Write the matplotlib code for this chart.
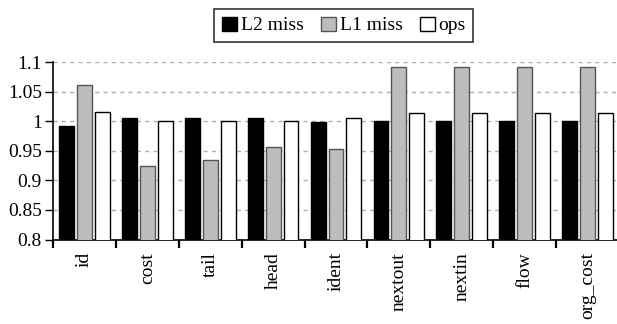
import numpy as np
import matplotlib
matplotlib.use("Agg")
import matplotlib.pyplot as plt
from matplotlib.patches import Patch

# ── Data ──────────────────────────────────────────────────────────────────────
fields = ['id', 'cost', 'tail', 'head', 'ident', 'nextout', 'nextin', 'flow', 'org_cost']
l2_miss = [0.992, 1.006, 1.006, 1.006, 0.998, 1.001, 1.001, 1.001, 1.001]
l1_miss = [1.061, 0.924, 0.934, 0.957, 0.953, 1.091, 1.091, 1.091, 1.091]
ops     = [1.015, 1.001, 1.001, 1.001, 1.005, 1.013, 1.013, 1.013, 1.013]
yticks  = [0.8, 0.85, 0.9, 0.95, 1.0, 1.05, 1.1]
ytick_labels = ['0.8', '0.85', '0.9', '0.95', '1', '1.05', '1.1']

# ── Plot ──────────────────────────────────────────────────────────────────────
plt.rcParams.update({'font.family': 'Liberation Serif', 'font.size': 14})
fig = plt.figure(figsize=(6.17, 3.24), dpi=100)
ax = fig.add_axes([0.0859, 0.2608, 0.9173, 0.5478])

x = np.arange(len(fields))
w = 0.237
step = 0.284
ax.bar(x - step, l2_miss, w, color='black', edgecolor='black', lw=1, zorder=3)
ax.bar(x, l1_miss, w, color='#bdbdbd', edgecolor='#555555', lw=1, zorder=3)
ax.bar(x + step, ops, w, color='white', edgecolor='black', lw=1, zorder=3)

ax.set_ylim(0.8, 1.1)
ax.set_xlim(-0.5, len(fields) - 0.5)
ax.set_yticks(yticks)
ax.set_yticklabels(ytick_labels)
ax.yaxis.grid(True, ls=(0, (3, 3)), color='#b0b0b0', lw=1, zorder=0)

# group boundaries as major ticks, names as minor ticks at centres
ax.set_xticks(np.arange(len(fields) + 1) - 0.5)
ax.set_xticklabels([])
ax.set_xticks(x, minor=True)
ax.set_xticklabels(fields, minor=True, rotation=90, va='top', ha='center')
ax.tick_params(axis='x', which='minor', length=0, pad=9)
ax.tick_params(axis='x', which='major', length=6, width=1.6, direction='out')
ax.tick_params(axis='y', length=6, width=1, direction='out', pad=2)

for s in ['top', 'right']:
    ax.spines[s].set_visible(False)
ax.spines['left'].set_linewidth(1.2)
ax.spines['bottom'].set_linewidth(1.2)

handles = [Patch(facecolor='black', edgecolor='black', label='L2 miss'),
           Patch(facecolor='#bdbdbd', edgecolor='#555555', label='L1 miss'),
           Patch(facecolor='white', edgecolor='black', label='ops')]
leg = fig.legend(handles=handles, loc='center', bbox_to_anchor=(0.5575, 0.9213, 0, 0),
                 ncol=3, frameon=True, fancybox=False, edgecolor='black',
                 handlelength=0.75, handleheight=0.75, handletextpad=0.2,
                 columnspacing=0.9, borderpad=0.4, fontsize=14)
leg.get_frame().set_linewidth(1.2)

fig.savefig('out.png', dpi=100)
